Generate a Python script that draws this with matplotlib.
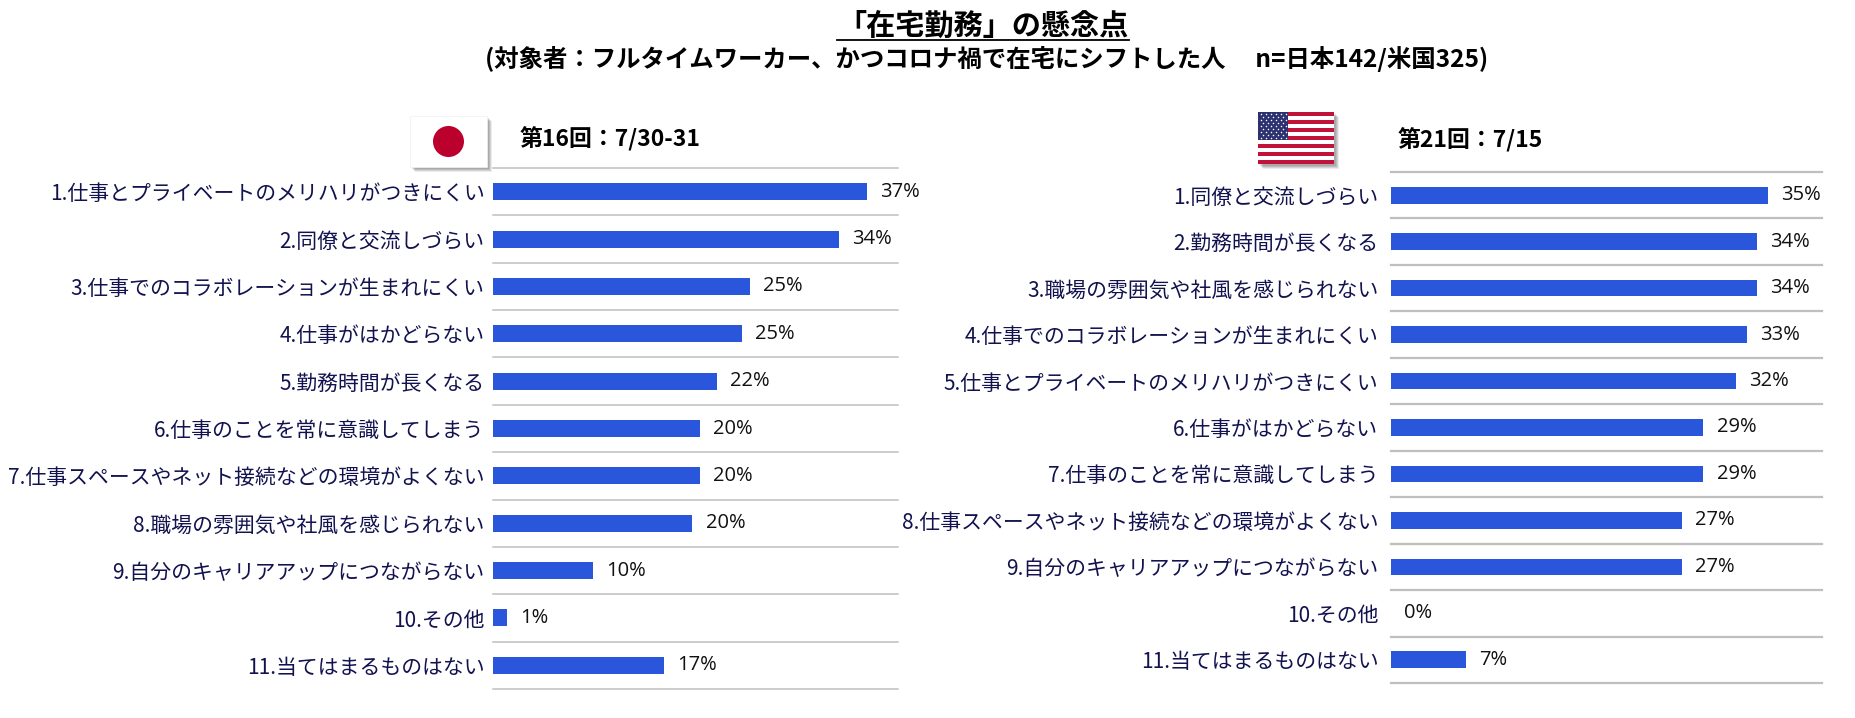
import matplotlib
matplotlib.use("Agg")
import matplotlib.pyplot as plt
from matplotlib.patches import Rectangle, Ellipse
from matplotlib.lines import Line2D

# ---------------- data ----------------
title = "「在宅勤務」の懸念点"
subtitle = "(対象者：フルタイムワーカー、かつコロナ禍で在宅にシフトした人　 n=日本142/米国325)"

jp_header = "第16回：7/30-31"
jp_labels = [
    "1.仕事とプライベートのメリハリがつきにくい",
    "2.同僚と交流しづらい",
    "3.仕事でのコラボレーションが生まれにくい",
    "4.仕事がはかどらない",
    "5.勤務時間が長くなる",
    "6.仕事のことを常に意識してしまう",
    "7.仕事スペースやネット接続などの環境がよくない",
    "8.職場の雰囲気や社風を感じられない",
    "9.自分のキャリアアップにつながらない",
    "10.その他",
    "11.当てはまるものはない",
]
jp_values = [36.9, 34.2, 25.4, 24.6, 22.1, 20.4, 20.4, 19.7, 9.9, 1.4, 16.9]
jp_value_labels = ["37%", "34%", "25%", "25%", "22%", "20%", "20%", "20%", "10%", "1%", "17%"]

us_header = "第21回：7/15"
us_labels = [
    "1.同僚と交流しづらい",
    "2.勤務時間が長くなる",
    "3.職場の雰囲気や社風を感じられない",
    "4.仕事でのコラボレーションが生まれにくい",
    "5.仕事とプライベートのメリハリがつきにくい",
    "6.仕事がはかどらない",
    "7.仕事のことを常に意識してしまう",
    "8.仕事スペースやネット接続などの環境がよくない",
    "9.自分のキャリアアップにつながらない",
    "10.その他",
    "11.当てはまるものはない",
]
us_values = [35, 34, 34, 33, 32, 29, 29, 27, 27, 0, 7]
us_value_labels = ["35%", "34%", "34%", "33%", "32%", "29%", "29%", "27%", "27%", "0%", "7%"]

# ---------------- style ----------------
W, H = 1855, 718
DPI = 100
BAR = "#2A56DC"
GRID = "#BFBFBF"
LABEL_C = "#12124F"
VAL_C = "#111111"
CJK = ["Noto Sans CJK JP", "DejaVu Sans"]
plt.rcParams["font.family"] = CJK

fig = plt.figure(figsize=(W / DPI, H / DPI), dpi=DPI)
fig.patch.set_facecolor("white")


def rect(l, t, r, b):
    return [l / W, 1 - b / H, (r - l) / W, (b - t) / H]


def fx(x):
    return x / W


def fy(y):
    return 1 - y / H


def panel(box, labels, values, vlabels, grid_lw, pad):
    ax = fig.add_axes(rect(*box))
    n = len(labels)
    ys = list(range(n))
    ax.barh(ys, values, height=0.36, color=BAR, zorder=3)
    ax.set_xlim(0, 40)
    ax.set_ylim(n - 0.5, -0.5)
    for k in range(n + 1):
        ax.axhline(k - 0.5, color=GRID, lw=grid_lw, clip_on=False, zorder=1)
    ax.set_yticks(ys)
    ax.set_yticklabels(labels, fontsize=15, color=LABEL_C, family=CJK)
    ax.tick_params(axis="y", length=0, pad=pad)
    ax.set_xticks([])
    for s in ax.spines.values():
        s.set_visible(False)
    for y, v, t in zip(ys, values, vlabels):
        ax.annotate(t, (v, y), xytext=(9.5, 0), textcoords="offset points",
                    ha="left", va="center", fontsize=14.5, color=VAL_C,
                    family=["Open Sans", "DejaVu Sans"])
    return ax


ax_jp = panel((493, 168, 898, 689), jp_labels, jp_values, jp_value_labels, 1.1, 6)
ax_us = panel((1391, 172, 1822, 683), us_labels, us_values, us_value_labels, 1.6, 9)

# headers
fig.text(fx(520), fy(139), jp_header, ha="left", va="center", fontsize=16.5,
         fontweight="bold", color="black")
fig.text(fx(1398), fy(140), us_header, ha="left", va="center", fontsize=16.5,
         fontweight="bold", color="black")

# title + subtitle
t = fig.text(fx(983), fy(26), title, ha="center", va="center", fontsize=21,
             fontweight="bold", color="black")
fig.text(fx(987), fy(59), subtitle, ha="center", va="center", fontsize=17.6,
         fontweight="bold", color="black")
fig.canvas.draw()
bb = t.get_window_extent(fig.canvas.get_renderer())
fig.add_artist(Line2D([bb.x0 / W, bb.x1 / W], [fy(39.5), fy(39.5)],
                      transform=fig.transFigure, color="black", lw=1.3))


def shadow(l, t, r, b):
    for i, a in enumerate([0.10, 0.10, 0.10, 0.08]):
        o = 2 + i
        fig.add_artist(Rectangle((fx(l + o), fy(b + o)), (r - l) / W, (b - t) / H,
                                 transform=fig.transFigure, facecolor="black",
                                 edgecolor="none", alpha=a, zorder=1))


# Japanese flag
shadow(410, 116, 487, 167)
fig.add_artist(Rectangle((fx(410), fy(167)), 77 / W, 51 / H, transform=fig.transFigure,
                         facecolor="white", edgecolor="#F0F0F0", lw=0.5, zorder=2))
fig.add_artist(Ellipse((fx(448.5), fy(141.5)), 31 / W, 31 / H, transform=fig.transFigure,
                       facecolor="#BC002D", edgecolor="none", zorder=3))

# US flag
shadow(1258, 112, 1334, 164)
fax = fig.add_axes(rect(1258, 112, 1334, 164), zorder=5)
fax.set_xlim(0, 1)
fax.set_ylim(0, 13)
for i in range(13):
    fax.add_patch(Rectangle((0, i), 1, 1, facecolor="#C0123A" if i % 2 == 0 else "white",
                            edgecolor="none"))
fax.add_patch(Rectangle((0, 6), 0.4, 7, facecolor="#2E3170", edgecolor="none"))
sx, sy = [], []
for r in range(9):
    cols = 6 if r % 2 == 0 else 5
    for c in range(cols):
        sx.append(0.4 * ((c + (0.5 if r % 2 == 0 else 1.0)) / 6.0))
        sy.append(6 + 7 * (r + 0.5) / 9.0)
fax.scatter(sx, sy, s=1.2, color="white", marker="o", linewidths=0)
fax.axis("off")

fig.savefig("out.png", dpi=DPI, facecolor="white")
